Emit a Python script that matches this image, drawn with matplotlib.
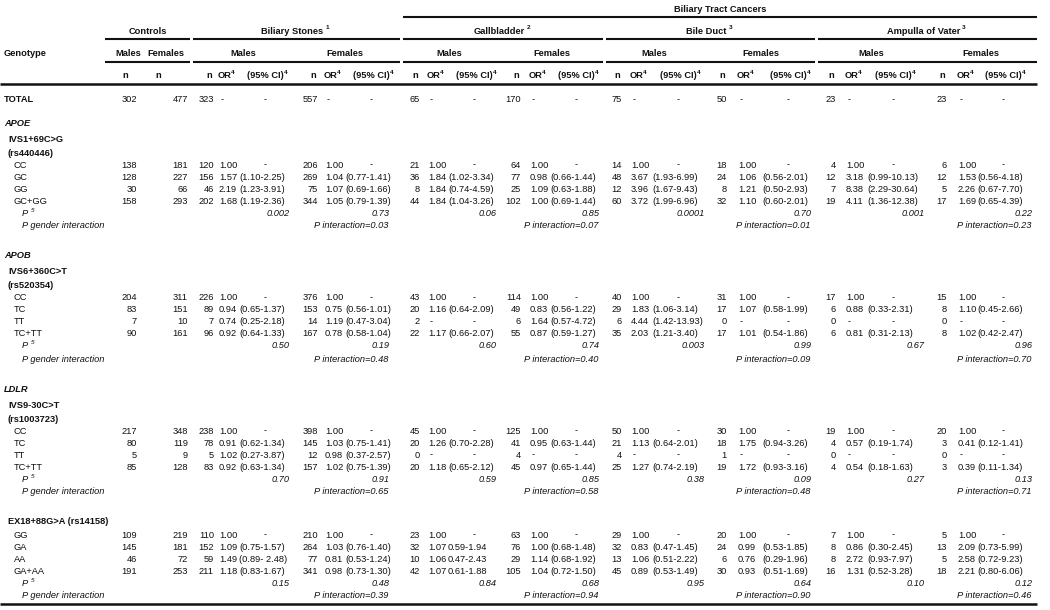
import matplotlib
matplotlib.use('Agg')
import matplotlib.pyplot as plt

FONT = ['Liberation Sans', 'DejaVu Sans']
plt.rcParams['font.family'] = FONT

# ---------------- data ----------------
super_title = 'Biliary Tract Cancers'
group_titles = ['Biliary Stones', 'Gallbladder', 'Bile Duct', 'Ampulla of Vater']
group_sups = ['1', '2', '3', '3']
sex_labels = ['Males', 'Females']

total_ctrl = [302, 477]
total_n = [323, 557, 65, 170, 75, 50, 23, 23]

gene_labels = ['APOE', 'APOB', 'LDLR', '']
snp_labels = [['IVS1+69C>G', '(rs440446)'], ['IVS6+360C>T', '(rs520354)'],
              ['IVS9-30C>T', '(rs1003723)'], ['EX18+88G>A (rs14158)']]

# APOE
apoe_geno = ['CC', 'GC', 'GG', 'GC+GG']
apoe_ctrl = [[138, 128, 30, 158], [181, 227, 66, 293]]
apoe_n = [[120, 156, 46, 202], [206, 269, 75, 344], [21, 36, 8, 44], [64, 77, 25, 102],
          [14, 48, 12, 60], [18, 24, 8, 32], [4, 12, 7, 19], [6, 12, 5, 17]]
apoe_or = [['1.00', '1.57', '2.19', '1.68'], ['1.00', '1.04', '1.07', '1.05'],
           ['1.00', '1.84', '1.84', '1.84'], ['1.00', '0.98', '1.09', '1.00'],
           ['1.00', '3.67', '3.96', '3.72'], ['1.00', '1.06', '1.21', '1.10'],
           ['1.00', '3.18', '8.38', '4.11'], ['1.00', '1.53', '2.26', '1.69']]
apoe_ci = [['-', '(1.10-2.25)', '(1.23-3.91)', '(1.19-2.36)'], ['-', '(0.77-1.41)', '(0.69-1.66)', '(0.79-1.39)'],
           ['-', '(1.02-3.34)', '(0.74-4.59)', '(1.04-3.26)'], ['-', '(0.66-1.44)', '(0.63-1.88)', '(0.69-1.44)'],
           ['-', '(1.93-6.99)', '(1.67-9.43)', '(1.99-6.96)'], ['-', '(0.56-2.01)', '(0.50-2.93)', '(0.60-2.01)'],
           ['-', '(0.99-10.13)', '(2.29-30.64)', '(1.36-12.38)'], ['-', '(0.56-4.18)', '(0.67-7.70)', '(0.65-4.39)']]
apoe_p = ['0.002', '0.73', '0.06', '0.85', '0.0001', '0.70', '0.001', '0.22']
apoe_pint = ['0.03', '0.07', '0.01', '0.23']

# APOB
apob_geno = ['CC', 'TC', 'TT', 'TC+TT']
apob_ctrl = [[204, 83, 7, 90], [311, 151, 10, 161]]
apob_n = [[226, 89, 7, 96], [376, 153, 14, 167], [43, 20, 2, 22], [114, 49, 6, 55],
          [40, 29, 6, 35], [31, 17, 0, 17], [17, 6, 0, 6], [15, 8, 0, 8]]
apob_or = [['1.00', '0.94', '0.74', '0.92'], ['1.00', '0.75', '1.19', '0.78'],
           ['1.00', '1.16', '-', '1.17'], ['1.00', '0.83', '1.64', '0.87'],
           ['1.00', '1.83', '4.44', '2.03'], ['1.00', '1.07', '-', '1.01'],
           ['1.00', '0.88', '-', '0.81'], ['1.00', '1.10', '-', '1.02']]
apob_ci = [['-', '(0.65-1.37)', '(0.25-2.18)', '(0.64-1.33)'], ['-', '(0.56-1.01)', '(0.47-3.04)', '(0.58-1.04)'],
           ['-', '(0.64-2.09)', '-', '(0.66-2.07)'], ['-', '(0.56-1.22)', '(0.57-4.72)', '(0.59-1.27)'],
           ['-', '(1.06-3.14)', '(1.42-13.93)', '(1.21-3.40)'], ['-', '(0.58-1.99)', '-', '(0.54-1.86)'],
           ['-', '(0.33-2.31)', '-', '(0.31-2.13)'], ['-', '(0.45-2.66)', '-', '(0.42-2.47)']]
apob_p = ['0.50', '0.19', '0.60', '0.74', '0.003', '0.99', '0.67', '0.96']
apob_pint = ['0.48', '0.40', '0.09', '0.70']

# LDLR IVS9-30C>T
ldlr1_geno = ['CC', 'TC', 'TT', 'TC+TT']
ldlr1_ctrl = [[217, 80, 5, 85], [348, 119, 9, 128]]
ldlr1_n = [[238, 78, 5, 83], [398, 145, 12, 157], [45, 20, 0, 20], [125, 41, 4, 45],
           [50, 21, 4, 25], [30, 18, 1, 19], [19, 4, 0, 4], [20, 3, 0, 3]]
ldlr1_or = [['1.00', '0.91', '1.02', '0.92'], ['1.00', '1.03', '0.98', '1.02'],
            ['1.00', '1.26', '-', '1.18'], ['1.00', '0.95', '-', '0.97'],
            ['1.00', '1.13', '-', '1.27'], ['1.00', '1.75', '-', '1.72'],
            ['1.00', '0.57', '-', '0.54'], ['1.00', '0.41', '-', '0.39']]
ldlr1_ci = [['-', '(0.62-1.34)', '(0.27-3.87)', '(0.63-1.34)'], ['-', '(0.75-1.41)', '(0.37-2.57)', '(0.75-1.39)'],
            ['-', '(0.70-2.28)', '-', '(0.65-2.12)'], ['-', '(0.63-1.44)', '-', '(0.65-1.44)'],
            ['-', '(0.64-2.01)', '-', '(0.74-2.19)'], ['-', '(0.94-3.26)', '-', '(0.93-3.16)'],
            ['-', '(0.19-1.74)', '-', '(0.18-1.63)'], ['-', '(0.12-1.41)', '-', '(0.11-1.34)']]
ldlr1_p = ['0.70', '0.91', '0.59', '0.85', '0.38', '0.09', '0.27', '0.13']
ldlr1_pint = ['0.65', '0.58', '0.48', '0.71']

# LDLR EX18+88G>A
ldlr2_geno = ['GG', 'GA', 'AA', 'GA+AA']
ldlr2_ctrl = [[109, 145, 46, 191], [219, 181, 72, 253]]
ldlr2_n = [[110, 152, 59, 211], [210, 264, 77, 341], [23, 32, 10, 42], [63, 76, 29, 105],
           [29, 32, 13, 45], [20, 24, 6, 30], [7, 8, 8, 16], [5, 13, 5, 18]]
ldlr2_or = [['1.00', '1.09', '1.49', '1.18'], ['1.00', '1.03', '0.81', '0.98'],
            ['1.00', '1.07', '1.06', '1.07'], ['1.00', '1.00', '1.14', '1.04'],
            ['1.00', '0.83', '1.06', '0.89'], ['1.00', '0.99', '0.76', '0.93'],
            ['1.00', '0.86', '2.72', '1.31'], ['1.00', '2.09', '2.58', '2.21']]
ldlr2_ci = [['-', '(0.75-1.57)', '(0.89- 2.48)', '(0.83-1.67)'], ['-', '(0.76-1.40)', '(0.53-1.24)', '(0.73-1.30)'],
            ['-', '0.59-1.94', '0.47-2.43', '0.61-1.88'], ['-', '(0.68-1.48)', '(0.68-1.92)', '(0.72-1.50)'],
            ['-', '(0.47-1.45)', '(0.51-2.22)', '(0.53-1.49)'], ['-', '(0.53-1.85)', '(0.29-1.96)', '(0.51-1.69)'],
            ['-', '(0.30-2.45)', '(0.93-7.97)', '(0.52-3.28)'], ['-', '(0.73-5.99)', '(0.72-9.23)', '(0.80-6.06)']]
ldlr2_p = ['0.15', '0.48', '0.84', '0.68', '0.95', '0.64', '0.10', '0.12']
ldlr2_pint = ['0.39', '0.94', '0.90', '0.46']

blocks = [
    (apoe_geno, apoe_ctrl, apoe_n, apoe_or, apoe_ci, apoe_p, apoe_pint),
    (apob_geno, apob_ctrl, apob_n, apob_or, apob_ci, apob_p, apob_pint),
    (ldlr1_geno, ldlr1_ctrl, ldlr1_n, ldlr1_or, ldlr1_ci, ldlr1_p, ldlr1_pint),
    (ldlr2_geno, ldlr2_ctrl, ldlr2_n, ldlr2_or, ldlr2_ci, ldlr2_p, ldlr2_pint),
]

# ---------------- layout ----------------
W, H = 1050, 610
fig = plt.figure(figsize=(W / 100, H / 100), dpi=100)
ax = fig.add_axes([0, 0, 1, 1])
ax.set_xlim(0, W)
ax.set_ylim(H, 0)
ax.axis('off')
renderer = fig.canvas.get_renderer()

FS = 6.7
COL = '#111111'

ctrl_n_right = [137, 188]
ctrl_hdr_x = [128, 166]
ctrl_n_hdr_x = [125, 158]
n_right = [214, 318, 420, 521, 622, 727, 836, 947]
or_left = [219, 325, 428, 530, 631, 738, 846, 958]
ci_left = [239, 345, 448, 550, 652, 762, 867, 977]
p_right = [290, 390, 497, 600, 705, 812, 925, 1033]
group_spans = [(193, 400), (403, 603), (606, 815), (818, 1037)]
ctrl_span = (105, 190)
DASH_OFF = 26


def txt(x, y, s, ha='left', weight='normal', style='normal', size=FS):
    return ax.text(x, y, s, ha=ha, va='center', fontsize=size, fontweight=weight,
                   fontstyle=style, color=COL, family=FONT)


def sup_txt(x, y, s, sup, gap=0.0, ha='center', weight='bold'):
    # main text with a small superscript right after it
    t = txt(x, y, s, ha=ha, weight=weight)
    bb = t.get_window_extent(renderer=renderer)
    x1, _ = ax.transData.inverted().transform((bb.x1, bb.y0))
    ax.text(x1 + gap, y - 3.5, sup, ha='left', va='center', fontsize=FS * 0.68,
            fontweight=weight, color=COL, family=FONT)


def hline(x0, x1, y, lw=1.5):
    ax.plot([x0, x1], [y, y], color='#111111', lw=lw, solid_capstyle='butt')


# header rows
y_top, y_grp, y_sex, y_col = 10, 31, 54, 76
txt((group_spans[1][0] + group_spans[3][1]) / 2, y_top, super_title, ha='center', weight='bold')
hline(group_spans[1][0], group_spans[3][1], 17)

txt((ctrl_span[0] + ctrl_span[1]) / 2, y_grp, 'Controls', ha='center', weight='bold')
for gi, (a, b) in enumerate(group_spans):
    sup_txt((a + b) / 2 - 4, y_grp, group_titles[gi], group_sups[gi], gap=2)
for a, b in [ctrl_span] + group_spans:
    hline(a, b, 39)
    hline(a, b, 62)

txt(4, y_sex, 'Genotype', weight='bold')
for k in range(2):
    txt(ctrl_hdr_x[k], y_sex, sex_labels[k], ha='center', weight='bold')
    txt(ctrl_n_hdr_x[k], y_col, 'n', ha='center', weight='bold')
for c in range(8):
    cx = (n_right[c] - 12 + p_right[c]) / 2 - 3
    txt(cx, y_sex, sex_labels[c % 2], ha='center', weight='bold')
    txt(n_right[c] - 5, y_col, 'n', ha='center', weight='bold')
    sup_txt(or_left[c] + 6, y_col, 'OR', '4', gap=-1.5)
    sup_txt(ci_left[c] + DASH_OFF, y_col, '(95% CI)', '4', gap=0.5)
hline(0, 1037, 84, lw=1.8)

# TOTAL row
y_total = 100
txt(4, y_total, 'TOTAL', weight='bold')
for k in range(2):
    txt(ctrl_n_right[k], y_total, str(total_ctrl[k]), ha='right')
for c in range(8):
    txt(n_right[c], y_total, str(total_n[c]), ha='right')
    txt(or_left[c] + 2, y_total, '-')
    txt(ci_left[c] + DASH_OFF, y_total, '-', ha='center')

# blocks
for b, (geno, ctrl, nn, orr, ci, pv, pint) in enumerate(blocks):
    y0 = 123 + 133 * b
    if gene_labels[b]:
        txt(4, y0, gene_labels[b], weight='bold', style='italic')
        for j, s in enumerate(snp_labels[b]):
            txt(8, y0 + 16 + 14 * j, s, weight='bold')
        yr = y0 + 42
    else:
        txt(8, y0, snp_labels[b][0], weight='bold')
        yr = y0 + 13
    for r, g in enumerate(geno):
        y = yr + 12 * r
        txt(14, y, g)
        for k in range(2):
            txt(ctrl_n_right[k], y, str(ctrl[k][r]), ha='right')
        for c in range(8):
            txt(n_right[c], y, str(nn[c][r]), ha='right')
            o = orr[c][r]
            txt(or_left[c] + (2 if o == '-' else 0), y, o)
            s = ci[c][r]
            if s == '-':
                txt(ci_left[c] + DASH_OFF, y, '-', ha='center')
            else:
                txt(ci_left[c], y, s)
    yp = yr + 48
    txt(22, yp, 'P', style='italic')
    ax.text(31, yp - 3, '5', ha='left', va='center', fontsize=FS * 0.68, fontstyle='italic',
            color=COL, family=FONT)
    for c in range(8):
        txt(p_right[c], yp, pv[c], ha='right', style='italic')
    yg = yr + 61
    txt(22, yg, 'P gender interaction', style='italic')
    for gi in range(4):
        txt(p_right[2 * gi + 1] - 2, yg, 'P interaction=' + pint[gi], ha='right', style='italic')

hline(0, 1037, 604, lw=1.8)

fig.savefig('out.png', dpi=100)
